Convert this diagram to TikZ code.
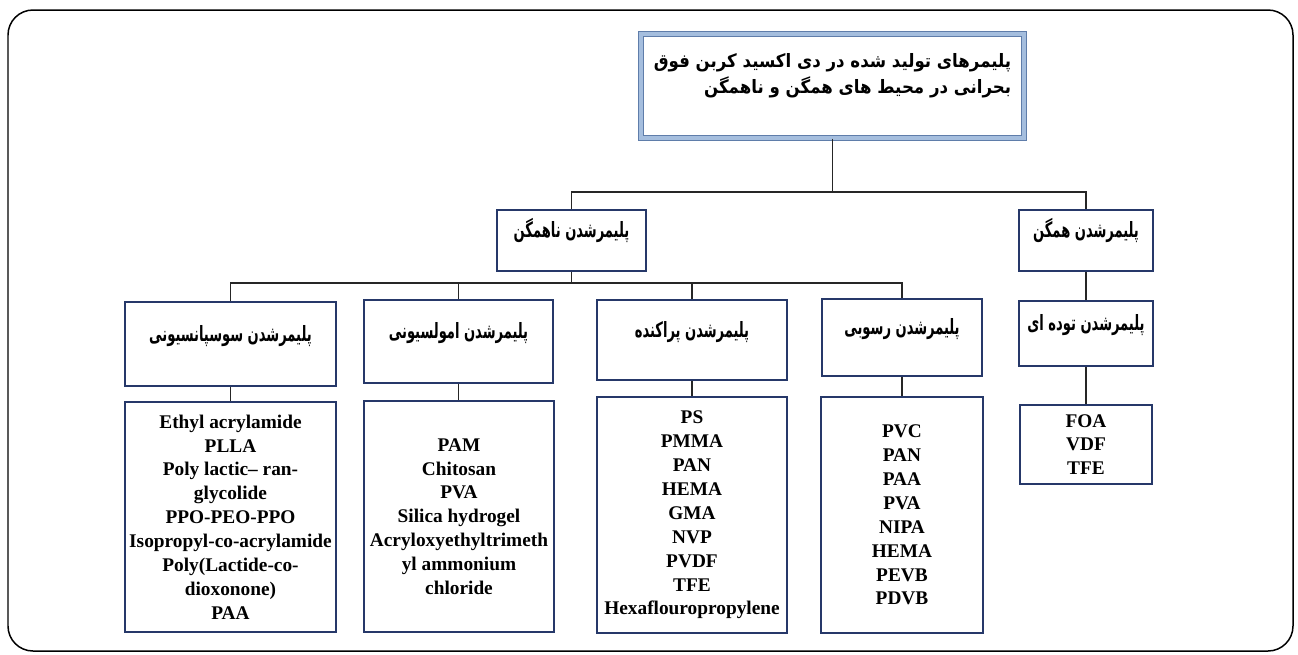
\documentclass[tikz,border=0pt]{standalone}
\usepackage{fontspec}
\setmainfont{Liberation Serif}
\newfontfamily\farsi[Script=Arabic,FakeStretch=0.9]{DejaVu Sans}
\newfontfamily\farsinarrow[Script=Arabic,FakeStretch=0.62]{DejaVu Sans}
\TeXXeTstate=1
\usetikzlibrary{positioning}

\definecolor{boxline}{RGB}{38,56,105}
\definecolor{titleedge}{RGB}{95,125,170}
\definecolor{titleband}{RGB}{165,190,222}

\tikzstyle{box}=[rectangle,draw=boxline,line width=1.1pt,fill=white,inner sep=0pt]
\tikzstyle{titlebox}=[box,draw=titleedge,line width=0.6pt,double=titleband,double distance=2.4pt,align=right]
\tikzstyle{fa}=[font=\farsi\bfseries\fontsize{10.5}{15.3}\selectfont]
\tikzstyle{faup}=[font=\farsinarrow\bfseries\fontsize{12}{15.3}\selectfont,text height=9pt,text depth=12pt]
\tikzstyle{list}=[box,align=center,font=\bfseries\fontsize{11}{13.6}\selectfont]
\tikzstyle{link}=[draw=black!85,line width=0.85pt]

\begin{document}
\begin{tikzpicture}[x=0.02cm, y=-0.02cm]
		\useasboundingbox (0,0) rectangle (1298,654);
		\draw [line width=0.85pt, rounded corners=0.5cm] (8,10) rectangle (1293,651);

		\node [titlebox,fa,minimum width=7.66cm,minimum height=2.08cm] (top) at (832.5,86)
			{\beginR پلیمرهای تولید شده در دی اکسید کربن فوق\endR\\
			 \beginR بحرانی در محیط های همگن و ناهمگن\endR\\[-1pt]};

		\node [box,faup,minimum width=2.98cm,minimum height=1.22cm] (nahamgen) at (571.5,240.5) {\beginR پلیمرشدن ناهمگن\endR};
		\node [box,faup,minimum width=2.68cm,minimum height=1.22cm] (hamgen)   at (1086,240.5)  {\beginR پلیمرشدن همگن\endR};

		\node [box,faup,minimum width=4.22cm,minimum height=1.68cm] (susp)   at (230.5,344)  {\beginR پلیمرشدن سوسپانسیونی\endR};
		\node [box,faup,minimum width=3.78cm,minimum height=1.66cm] (emul)   at (458.5,341.5) {\beginR پلیمرشدن امولسیونی\endR};
		\node [box,faup,minimum width=3.80cm,minimum height=1.60cm] (pera)   at (692,340)    {\beginR پلیمرشدن پراکنده\endR};
		\node [box,faup,minimum width=3.20cm,minimum height=1.54cm] (rosubi) at (902,337.5)  {\beginR پلیمرشدن رسوبی\endR};
		\node [box,faup,minimum width=2.68cm,minimum height=1.30cm] (tudeh)  at (1086,333.5) {\beginR پلیمرشدن توده ای\endR};

		\node [list,minimum width=4.22cm,minimum height=4.60cm] (list1) at (230.5,517)
			{Ethyl acrylamide\\PLLA\\Poly lactic-- ran-\\glycolide\\PPO-PEO-PPO\\Isopropyl-co-acrylamide\\Poly(Lactide-co-\\dioxonone)\\PAA};
		\node [list,minimum width=3.80cm,minimum height=4.62cm] (list2) at (459,516.5)
			{PAM\\Chitosan\\PVA\\Silica hydrogel\\Acryloxyethyltrimeth\\yl ammonium\\chloride};
		\node [list,minimum width=3.80cm,minimum height=4.72cm] (list3) at (692,515)
			{PS\\PMMA\\PAN\\HEMA\\GMA\\NVP\\PVDF\\TFE\\Hexaflouropropylene};
		\node [list,minimum width=3.24cm,minimum height=4.72cm] (list4) at (902,515)
			{PVC\\PAN\\PAA\\PVA\\NIPA\\HEMA\\PEVB\\PDVB};
		\node [list,minimum width=2.64cm,minimum height=1.58cm] (list5) at (1086,444.5)
			{FOA\\VDF\\TFE};

		\coordinate (split0) at (832.5,192);
		\coordinate (split1) at (571.5,283);

		\draw [link] (top)           -- (split0);
		\draw [link] (nahamgen.north) |- (split0) -| (hamgen.north);
		\draw [link] (nahamgen)      -- (split1);
		\draw [link] (susp.north)    |- (split1) -| (rosubi.north);
		\draw [link] (emul.north)    |- (split1);
		\draw [link] (pera.north)    |- (split1);
		\draw [link] (hamgen)        -- (tudeh);

		\draw [link] (susp)   -- (list1);
		\draw [link] (emul)   -- (emul.south |- list2.north);
		\draw [link] (pera)   -- (list3);
		\draw [link] (rosubi) -- (list4);
		\draw [link] (tudeh)  -- (list5);
	\end{tikzpicture}
\end{document}
